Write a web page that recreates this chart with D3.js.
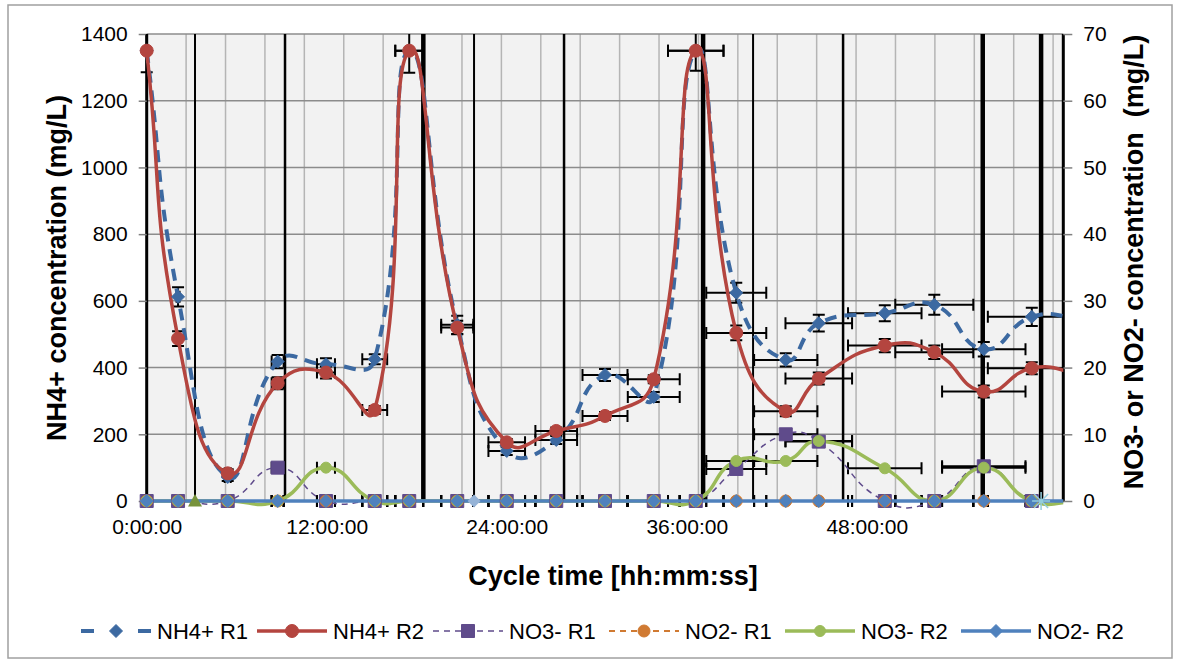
<!DOCTYPE html>
<html><head><meta charset="utf-8">
<script src="https://cdn.jsdelivr.net/npm/d3@7"></script>
<style>
body{margin:0;background:#fff;}
svg{display:block;font-family:"Liberation Sans",Arial,sans-serif;}
</style>
</head><body>
<svg id="chart" width="1179" height="664"></svg>
<script>
// ---------------- DATA ----------------
// sampling times (hours); last one lies beyond the axis end and is clipped
const timesH   = [0, 2.09, 5.4, 8.73, 11.95, 15.2, 17.5, 20.7, 24.0, 27.3, 30.55, 33.8, 36.6, 39.3, 42.6, 44.8, 49.2, 52.5, 55.8, 59.0, 62.3];
const nh4R1    = [1350, 612, 72, 418, 410, 425, 1350, 528, 150, 183, 378, 312, 1350, 624, 423, 533, 563, 588, 455, 552, 548];
const nh4R2    = [1350, 487, 83, 353, 385, 273, 1350, 520, 176, 210, 255, 365, 1350, 504, 269, 367, 466, 446, 328, 398, 382];
const no3R1    = [0, 0, 0, 5, 0, 0, 0, 0, 0, 0, 0, 0, 0, 4.8, 10, 8.9, 0, 0, 5.2, 0, 0];
const no2R1    = [0, 0, 0, 0, 0, 0, 0, 0, 0, 0, 0, 0, 0, 0, 0, 0, 0, 0, 0, 0, 0];
const no3R2    = [0, 0, 0, 0, 5, 0, 0, 0, 0, 0, 0, 0, 0, 6, 6, 9, 4.9, 0, 5, 0, 0];
const no2R2    = [0, 0, 0, 0, 0, 0, 0, 0, 0, 0, 0, 0, 0, 0, 0, 0, 0, 0, 0, 0, 0];
// error bars
const timeErrH = [0, 0.1, 0.2, 0.4, 0.6, 0.83, 0.93, 1.07, 1.22, 1.39, 1.5, 1.73, 1.85, 2.0, 2.11, 2.22, 2.45, 2.6, 2.78, 2.93, 0];
const nh4R1Err = [65, 29, 12, 20, 18, 15, 66, 27, 12, 12, 18, 15, 60, 30, 20, 25, 24, 30, 22, 27, 0];
const nh4R2Err = [0, 22, 12, 18, 18, 12, 0, 20, 10, 10, 12, 12, 0, 22, 15, 18, 20, 20, 18, 18, 0];
// cycle phase boundaries (hours)
const phaseTimesH = [0, 3.22, 9.22, 18.44, 21.82, 27.82, 37.09, 40.42, 46.42, 55.73, 59.62];
const phaseType   = ["start", "a", "b", "c", "a", "b", "c", "a", "b", "c", "c"];
// axis ticks
const xTickHours  = [0, 12, 24, 36, 48];
const xTickLabels = ["0:00:00", "12:00:00", "24:00:00", "36:00:00", "48:00:00"];
const leftTicks   = [0, 200, 400, 600, 800, 1000, 1200, 1400];
const rightTicks  = [0, 10, 20, 30, 40, 50, 60, 70];
const xMaxH = 61.1;
const gridStepH = 2.627;
const seriesNames = ["NH4+ R1", "NH4+ R2", "NO3- R1", "NO2- R1", "NO3- R2", "NO2- R2"];

// ---------------- LAYOUT ----------------
const svg = d3.select("#chart");
const FONT = "'Liberation Sans', Arial, sans-serif";
const plot = {l: 146.7, r: 1063.3, t: 34, b: 501};
const x  = d3.scaleLinear().domain([0, xMaxH]).range([plot.l, plot.r]);
const yL = d3.scaleLinear().domain([0, 1400]).range([plot.b, plot.t]);
const yR = d3.scaleLinear().domain([0, 70]).range([plot.b, plot.t]);

// Excel-like smoothing curve
function excelSmooth(context) {
  let pts;
  const k = 0.5;
  return {
    areaStart() {}, areaEnd() {},
    lineStart() { pts = []; },
    point(px, py) { pts.push([+px, +py]); },
    lineEnd() {
      const n = pts.length; if (!n) return;
      context.moveTo(pts[0][0], pts[0][1]);
      const dist = (a, b) => Math.hypot(b[0] - a[0], b[1] - a[1]);
      for (let i = 0; i < n - 1; i++) {
        const p0 = pts[i > 0 ? i - 1 : i], p1 = pts[i], p2 = pts[i + 1], p3 = pts[i + 2 < n ? i + 2 : i + 1];
        const d01 = dist(p0, p1), d12 = dist(p1, p2), d23 = dist(p2, p3);
        const f1 = (d01 + d12) > 0 ? k * d12 / (d01 + d12) : 0;
        const f2 = (d12 + d23) > 0 ? k * d12 / (d12 + d23) : 0;
        const c1 = [p1[0] + (p2[0] - p0[0]) * f1, p1[1] + (p2[1] - p0[1]) * f1];
        const c2 = [p2[0] - (p3[0] - p1[0]) * f2, p2[1] - (p3[1] - p1[1]) * f2];
        context.bezierCurveTo(c1[0], c1[1], c2[0], c2[1], p2[0], p2[1]);
      }
    }
  };
}

// outer frame
svg.append("rect").attr("x", 8).attr("y", 5).attr("width", 1164).attr("height", 653)
  .attr("fill", "#fff").attr("stroke", "#a0a0a0").attr("stroke-width", 1.5);
// plot background
svg.append("rect").attr("x", plot.l).attr("y", plot.t).attr("width", plot.r - plot.l).attr("height", plot.b - plot.t)
  .attr("fill", "#f2f2f2");

const defs = svg.append("defs");
defs.append("clipPath").attr("id", "clipPlot").append("rect")
  .attr("x", plot.l - 20).attr("y", plot.t).attr("width", plot.r - plot.l + 20).attr("height", plot.b - plot.t + 20);

// vertical grid
svg.append("g").selectAll("line").data(d3.range(gridStepH, xMaxH, gridStepH)).join("line")
  .attr("x1", d => x(d)).attr("x2", d => x(d)).attr("y1", plot.t).attr("y2", plot.b)
  .attr("stroke", "#b5b5b5").attr("stroke-width", 1.5);
// horizontal grid
svg.append("g").selectAll("line").data(leftTicks).join("line")
  .attr("x1", plot.l).attr("x2", plot.r).attr("y1", d => yL(d)).attr("y2", d => yL(d))
  .attr("stroke", "#8c8c8c").attr("stroke-width", 1.5);

// phase boundary lines
const phaseWidth = {start: 3, a: 2, b: 2.5, c: 4.5};
svg.append("g").selectAll("line").data(phaseTimesH).join("line")
  .attr("x1", d => x(d)).attr("x2", d => x(d)).attr("y1", plot.t).attr("y2", plot.b)
  .attr("stroke", "#000").attr("stroke-width", (d, i) => phaseWidth[phaseType[i]]);
// right border line
svg.append("line").attr("x1", plot.r).attr("x2", plot.r).attr("y1", plot.t).attr("y2", plot.b)
  .attr("stroke", "#000").attr("stroke-width", 3);

// axes
function styleAxis(g) {
  g.attr("font-size", 21).attr("font-family", FONT);
  g.select(".domain").remove();
  g.selectAll(".tick line").attr("stroke", "#808080").attr("stroke-width", 1.5);
  g.selectAll(".tick text").attr("fill", "#000");
}
svg.append("g").attr("transform", `translate(${plot.l},0)`)
  .call(d3.axisLeft(yL).tickValues(leftTicks).tickSize(8).tickPadding(11).tickFormat(d3.format("d")))
  .call(styleAxis);
svg.append("g").attr("transform", `translate(${plot.r},0)`)
  .call(d3.axisRight(yR).tickValues(rightTicks).tickSize(9).tickPadding(11).tickFormat(d3.format("d")))
  .call(styleAxis);
svg.append("g").attr("transform", `translate(0,${plot.b})`)
  .call(d3.axisBottom(x).tickValues(xTickHours).tickSize(0).tickPadding(18).tickFormat((d, i) => xTickLabels[i]))
  .call(styleAxis);

// series definitions (styles)
const series = [
  {name: seriesNames[0], v: nh4R1, y: yL, err: nh4R1Err, color: "#3c69a1", w: 4,   dash: "12,8", marker: "diamond", mfill: "#3c69a1", ms: 6.5},
  {name: seriesNames[1], v: nh4R2, y: yL, err: nh4R2Err, color: "#b4453f", w: 3.5, dash: null,   marker: "circle",  mfill: "#b4453f", ms: 6.5},
  {name: seriesNames[2], v: no3R1, y: yR, err: null,     color: "#5f4b8b", w: 1.5, dash: "6,5",  marker: "square",  mfill: "#5f4b8b", ms: 6.5},
  {name: seriesNames[3], v: no2R1, y: yR, err: null,     color: "#d07a32", w: 2,   dash: "6,5",  marker: "circle",  mfill: "#d07a32", ms: 6},
  {name: seriesNames[4], v: no3R2, y: yR, err: null,     color: "#9bbb59", w: 3.5, dash: null,   marker: "circle",  mfill: "#9bbb59", ms: 5.5},
  {name: seriesNames[5], v: no2R2, y: yR, err: null,     color: "#4f81bd", w: 3.5, dash: null,   marker: "diamond", mfill: "#4f81bd", ms: 6.5}
];

// error bars
const eb = svg.append("g").attr("clip-path", "url(#clipPlot)").attr("stroke", "#000").attr("stroke-width", 2).attr("fill", "none");
const cap = 6;
series.forEach(s => {
  s.v.forEach((val, i) => {
    const t = timesH[i], e = timeErrH[i], cy = s.y(val);
    if (e > 0) {
      const xa = x(t - e), xb = x(t + e);
      eb.append("path").attr("d", `M${xa},${cy}H${xb}M${xa},${cy - cap}V${cy + cap}M${xb},${cy - cap}V${cy + cap}`);
    }
    if (s.err && s.err[i] > 0) {
      const ya = s.y(val + s.err[i]), yb = s.y(val - s.err[i]), cx = x(t);
      eb.append("path").attr("d", `M${cx},${ya}V${yb}M${cx - cap},${ya}H${cx + cap}M${cx - cap},${yb}H${cx + cap}`);
    }
  });
});

// marker path generator
function markerPath(type, r) {
  if (type === "diamond") return `M0,${-r}L${r},0L0,${r}L${-r},0Z`;
  if (type === "square") return `M${-r},${-r}H${r}V${r}H${-r}Z`;
  if (type === "triangle") return `M0,${-r}L${r},${r * 0.8}H${-r}Z`;
  return d3.symbol(d3.symbolCircle, Math.PI * r * r)();
}

// lines
const lines = svg.append("g").attr("clip-path", "url(#clipPlot)");
series.forEach(s => {
  const line = d3.line().x((d, i) => x(timesH[i])).y(d => s.y(d)).curve(excelSmooth);
  lines.append("path").attr("d", line(s.v)).attr("fill", "none")
    .attr("stroke", s.color).attr("stroke-width", s.w)
    .attr("stroke-dasharray", s.dash).attr("stroke-linejoin", "round");
});

// markers
const mk = svg.append("g");
series.forEach(s => {
  s.v.forEach((val, i) => {
    if (timesH[i] > xMaxH) return;
    mk.append("path").attr("d", markerPath(s.marker, s.ms))
      .attr("transform", `translate(${x(timesH[i])},${s.y(val)})`)
      .attr("fill", s.mfill).attr("stroke", s.mfill).attr("stroke-width", 1);
  });
});

// phase markers at the baseline
mk.append("path").attr("d", markerPath("triangle", 7)).attr("transform", `translate(${x(phaseTimesH[1])},${plot.b})`).attr("fill", "#77933c");
mk.append("path").attr("d", markerPath("diamond", 6.5)).attr("transform", `translate(${x(phaseTimesH[4])},${plot.b})`).attr("fill", "#95b3d7");
mk.append("path").attr("d", "M-7,-7L7,7M-7,7L7,-7M0,-9V9M-9,0H9").attr("transform", `translate(${x(phaseTimesH[10])},${plot.b})`)
  .attr("stroke", "#93cddd").attr("stroke-width", 1.5);

// axis titles
svg.append("text").attr("transform", `translate(66,268) rotate(-90)`).attr("text-anchor", "middle")
  .attr("font-size", 27).attr("font-weight", "bold").attr("font-family", FONT).text("NH4+ concentration (mg/L)");
svg.append("text").attr("transform", `translate(1143,262) rotate(-90)`).attr("text-anchor", "middle")
  .attr("font-size", 27).attr("font-weight", "bold").attr("font-family", FONT).attr("xml:space", "preserve")
  .style("white-space", "pre").text("NO3- or NO2- concentration  (mg/L)");
svg.append("text").attr("x", 613).attr("y", 585).attr("text-anchor", "middle")
  .attr("font-size", 27).attr("font-weight", "bold").attr("font-family", FONT).text("Cycle time [hh:mm:ss]");

// legend
const lg = svg.append("g");
series.forEach((s, i) => {
  const sx = 81 + i * 176, ly = 631;
  const g = lg.append("g").attr("transform", `translate(${sx},${ly})`);
  g.append("line").attr("x1", 0).attr("x2", 70).attr("y1", 0).attr("y2", 0)
    .attr("stroke", s.color).attr("stroke-width", s.w)
    .attr("stroke-dasharray", i === 0 ? "13,44" : s.dash);
  g.append("path").attr("d", markerPath(s.marker, s.ms)).attr("transform", "translate(35,0)")
    .attr("fill", s.mfill).attr("stroke", s.mfill);
  g.append("text").attr("x", 76).attr("y", 7.5).attr("font-size", 22).attr("font-family", FONT)
    .attr("fill", "#000").text(s.name);
});
</script>
</body></html>
